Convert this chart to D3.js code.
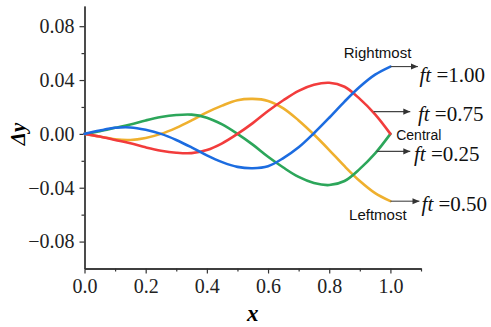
<!DOCTYPE html>
<html>
<head>
<meta charset="utf-8">
<script src="https://cdn.jsdelivr.net/npm/d3@7/dist/d3.min.js"></script>
<style>
  body { margin: 0; background: #fff; }
  svg { display: block; }
</style>
</head>
<body>
<div id="chart"></div>
<script>
// positions along the beam
const xs = [0, 0.05, 0.10, 0.15, 0.20, 0.25, 0.30, 0.35, 0.40, 0.45, 0.50,
            0.55, 0.60, 0.65, 0.70, 0.75, 0.80, 0.85, 0.90, 0.95, 1.00];

// deflection for each phase ft
const ft100 = [0, 0.0025, 0.0045, 0.0048, 0.003, 0.000, -0.0045, -0.010, -0.016, -0.021, -0.0245,
               -0.0255, -0.024, -0.018, -0.010, 0.0005, 0.012, 0.024, 0.035, 0.044, 0.050];
const ft050 = [0, -0.002, -0.004, -0.0045, -0.003, 0.000, 0.0045, 0.010, 0.016, 0.021, 0.025,
               0.026, 0.0245, 0.019, 0.010, -0.0005, -0.012, -0.024, -0.035, -0.044, -0.050];
const ft075 = [0, -0.002, -0.0045, -0.007, -0.010, -0.0125, -0.014, -0.0143, -0.012, -0.007, 0.000,
               0.008, 0.017, 0.025, 0.032, 0.0365, 0.038, 0.035, 0.026, 0.0145, 0];
const ft025 = [0, 0.002, 0.0045, 0.007, 0.010, 0.0125, 0.014, 0.0143, 0.012, 0.007, 0.000,
               -0.008, -0.017, -0.025, -0.032, -0.0365, -0.038, -0.035, -0.026, -0.0145, 0];

const seriesNames = ["0.50", "0.25", "0.75", "1.00"];
const seriesValues = [ft050, ft025, ft075, ft100];
const seriesColors = ["#efb02e", "#2ca65a", "#f23c3c", "#1c6ce0"];

// ticks
const yMajor = [-0.08, -0.04, 0, 0.04, 0.08];
const yMinor = [-0.06, -0.02, 0.02, 0.06];
const xMajor = [0, 0.2, 0.4, 0.6, 0.8, 1.0];
const xMinor = [0.1, 0.3, 0.5, 0.7, 0.9, 1.1];

// arrows: start point on curve (data units), end x, label position
const noteLabels = ["1.00", "0.75", "0.25", "0.50"];
const noteFrom = [[1.0, 0.050], [0.945, 0.0165], [0.955, -0.013], [1.0, -0.050]];
const noteToX = [1.09, 1.065, 1.065, 1.095];
const noteText = [[1.095, 0.0385], [1.09, 0.0099], [1.077, -0.0205], [1.102, -0.0570]];

const words = ["Rightmost", "Central", "Leftmost"];
const wordPos = [[0.958, 0.0565], [1.019, -0.0042], [0.959, -0.0637]];
const wordAnchor = ["middle", "start", "middle"];
const wordSize = [15, 14, 15];

const W = 491, H = 327;
const svg = d3.select("#chart").append("svg")
  .attr("width", W).attr("height", H);

const x = d3.scaleLinear().domain([0, 1.1]).range([84.5, 421]);
const y = d3.scaleLinear().domain([-0.1, 0.095]).range([268.5, 6]);

const serif = "'Liberation Serif', 'Times New Roman', serif";
const sans = "'Liberation Sans', Arial, sans-serif";
const axisColor = "#333";

// axes
const gx = svg.append("g").attr("transform", `translate(0,${y(-0.1)})`);
gx.call(d3.axisBottom(x).tickValues(xMinor).tickSize(3).tickSizeOuter(0).tickFormat(""));
const gx2 = svg.append("g").attr("transform", `translate(0,${y(-0.1)})`);
gx2.call(d3.axisBottom(x).tickValues(xMajor).tickSize(5).tickSizeOuter(0).tickFormat(d3.format(".1f")));
gx2.selectAll("text").attr("font-family", serif).attr("font-size", 20).attr("fill", "#222").attr("dy", "0.88em").attr("y", 7);

const gy = svg.append("g").attr("transform", `translate(${x(0)},0)`);
gy.call(d3.axisLeft(y).tickValues(yMinor).tickSize(3).tickSizeOuter(0).tickFormat(""));
const gy2 = svg.append("g").attr("transform", `translate(${x(0)},0)`);
gy2.call(d3.axisLeft(y).tickValues(yMajor).tickSize(5).tickSizeOuter(0).tickFormat(d3.format(".2f")));
gy2.selectAll("text").attr("font-family", serif).attr("font-size", 20).attr("fill", "#222").attr("x", -10);
svg.selectAll("path.domain").attr("stroke", axisColor).attr("stroke-width", 1.3);
svg.selectAll(".tick line").attr("stroke", axisColor).attr("stroke-width", 1.2);

// axis titles
svg.append("text")
  .attr("x", x(0.55)).attr("y", 321)
  .attr("text-anchor", "middle")
  .attr("font-family", serif).attr("font-size", 23)
  .attr("font-weight", "bold").attr("font-style", "italic")
  .text("x");

svg.append("text")
  .attr("transform", `translate(25,${y(0)}) rotate(-90)`)
  .attr("text-anchor", "middle")
  .attr("font-family", serif).attr("font-size", 21)
  .attr("font-weight", "bold").attr("font-style", "italic")
  .text("Δy");

// curves
const line = d3.line()
  .x(d => x(d[0]))
  .y(d => y(d[1]))
  .curve(d3.curveCatmullRom.alpha(0.5));

svg.append("g")
  .selectAll("path")
  .data(seriesValues)
  .enter()
  .append("path")
  .attr("fill", "none")
  .attr("stroke", (d, i) => seriesColors[i])
  .attr("stroke-width", 2.6)
  .attr("stroke-linecap", "round")
  .attr("d", d => line(xs.map((v, i) => [v, d[i]])));

// arrows
svg.append("defs").append("marker")
  .attr("id", "head")
  .attr("viewBox", "0 -4 8 8")
  .attr("refX", 8).attr("refY", 0)
  .attr("markerWidth", 7).attr("markerHeight", 7)
  .attr("markerUnits", "userSpaceOnUse")
  .attr("orient", "auto")
  .append("path")
  .attr("d", "M0,-3.5L8,0L0,3.5Z")
  .attr("fill", "#333");

svg.append("g")
  .selectAll("line")
  .data(noteFrom)
  .enter()
  .append("line")
  .attr("x1", d => x(d[0]))
  .attr("y1", d => y(d[1]))
  .attr("x2", (d, i) => x(noteToX[i]))
  .attr("y2", d => y(d[1]))
  .attr("stroke", "#444")
  .attr("stroke-width", 1.1)
  .attr("marker-end", "url(#head)");

const notes = svg.append("g")
  .selectAll("text")
  .data(noteLabels)
  .enter()
  .append("text")
  .attr("x", (d, i) => x(noteText[i][0]))
  .attr("y", (d, i) => y(noteText[i][1]))
  .attr("font-family", serif)
  .attr("font-size", 21)
  .attr("fill", "#111")
  .style("white-space", "pre");
notes.append("tspan").attr("font-style", "italic").text("ft");
notes.append("tspan").text(d => " =" + d);

svg.append("g")
  .selectAll("text")
  .data(words)
  .enter()
  .append("text")
  .attr("x", (d, i) => x(wordPos[i][0]))
  .attr("y", (d, i) => y(wordPos[i][1]))
  .attr("text-anchor", (d, i) => wordAnchor[i])
  .attr("font-family", sans)
  .attr("font-size", (d, i) => wordSize[i])
  .attr("fill", "#111")
  .text(d => d);
</script>
</body>
</html>
